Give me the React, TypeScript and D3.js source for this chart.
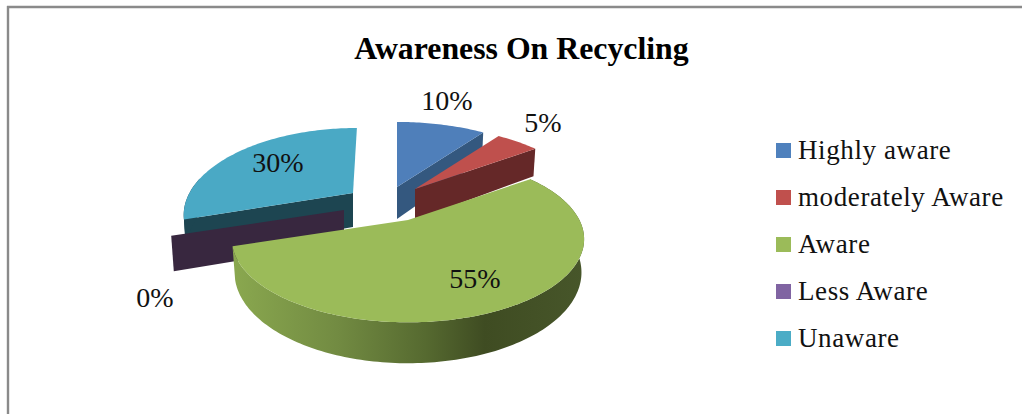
import React from "react";
import * as d3 from "d3";

// Chart data
const title = "Awareness On Recycling";
const categories = ["Highly aware", "moderately Aware", "Aware", "Less Aware", "Unaware"];
const shares = [10, 5, 55, 0, 30];

// Theme colours per category
const topColors = ["#4f7fba", "#bf504d", "#9bbb59", "#8064a2", "#4aa9c5"];
const legendColors = ["#4f81bd", "#c0504d", "#9bbb59", "#8064a2", "#4bacc6"];
const wallColors = ["#34587f", "#652828", "#9bbb59", "#38273f", "#1d4551"];

// Projection of the tilted disc
const RX = 174;
const RY = 80;
const PERSPECTIVE = 0.23;

type Layout = { ax: number; ay: number; sx: number; sy: number; shear: number; depth: number };

// Where each exploded slice sits on the page
const layouts: Layout[] = [
  { ax: 397, ay: 187, sx: 1, sy: 1, shear: 0, depth: 32 },
  { ax: 415, ay: 189, sx: 0.97, sy: 0.97, shear: 0, depth: 31 },
  { ax: 408, ay: 220, sx: 0.985, sy: 0.985, shear: 0, depth: 31.5 },
  { ax: 344, ay: 210, sx: 0.97, sy: 0.97, shear: 0, depth: 33 },
  { ax: 353, ay: 193, sx: 0.94, sy: 1, shear: -0.06, depth: 34 },
];
const labelSpots: [number, number][] = [
  [447, 110],
  [543, 132],
  [475, 288],
  [155, 307],
  [278, 172],
];

const project = (l: Layout, angle: number, r: number, z: number): [number, number] => {
  const gx = r * Math.sin(angle);
  const gy = -r * Math.cos(angle);
  const w = 1 - PERSPECTIVE * gy;
  const dy = (l.sy * RY * gy) / w;
  const x = l.ax + (l.sx * RX * gx * (1 - 0.015 * z)) / w + l.shear * dy;
  const y = l.ay + dy + (z * l.depth) / w;
  return [x, y];
};

const arcPoints = (l: Layout, a0: number, a1: number, z: number) => {
  const n = Math.max(1, Math.ceil(Math.abs(a1 - a0) / 0.02));
  return d3.range(n + 1).map((i) => project(l, a0 + ((a1 - a0) * i) / n, 1, z));
};

const closed = d3.line().curve(d3.curveLinearClosed);

const radialWall = (l: Layout, a: number) =>
  closed([project(l, a, 0, 0), project(l, a, 1, 0), project(l, a, 1, 1), project(l, a, 0, 1)]);

const topFace = (l: Layout, a0: number, a1: number) =>
  closed([project(l, 0, 0, 0), ...arcPoints(l, a0, a1, 0)]);

const outerWall = (l: Layout, a0: number, a1: number) =>
  closed([...arcPoints(l, a0, a1, 0), ...arcPoints(l, a1, a0, 1)]);

const pieSlices = d3
  .pie<number>()
  .sort(null)
  .startAngle(0)
  .endAngle(2 * Math.PI)(shares);

const legendY = d3
  .scalePoint<string>()
  .domain(categories)
  .range([150.5, 338.5]);

const bodyFont = "'Liberation Serif', serif";

export default function App() {
  const [blue, red, green, purple, teal] = pieSlices;
  return (
    <svg
      width={1022}
      height={414}
      viewBox="0 0 1022 414"
      style={{ position: "absolute", left: 0, top: 0, background: "#fff" }}
    >
      <defs>
        <linearGradient id="greenWall" gradientUnits="userSpaceOnUse" x1={232} x2={583} y1={0} y2={0}>
          <stop offset="0" stopColor="#8aa84f" />
          <stop offset="0.3" stopColor="#728b42" />
          <stop offset="0.55" stopColor="#566a30" />
          <stop offset="0.72" stopColor="#3f4c22" />
          <stop offset="1" stopColor="#47562a" />
        </linearGradient>
      </defs>

      {/* Frame: only the top and left rules are drawn */}
      <line x1={7} x2={1022} y1={7} y2={7} stroke="#8a8a8a" strokeWidth={2.4} />
      <line x1={8} x2={8} y1={6} y2={414} stroke="#8a8a8a" strokeWidth={2.4} />

      <text
        x={521.5}
        y={59}
        textAnchor="middle"
        fontFamily={bodyFont}
        fontWeight="bold"
        fontSize={31.8}
        fill="#000"
      >
        {title}
      </text>

      {/* Slices, painted back to front */}
      <path d={radialWall(layouts[0], blue.endAngle)!} fill={wallColors[0]} />
      <path d={topFace(layouts[0], blue.startAngle, blue.endAngle)!} fill={topColors[0]} />

      <path d={radialWall(layouts[4], teal.startAngle)!} fill={wallColors[4]} />
      <path d={outerWall(layouts[4], teal.startAngle, 4.9)!} fill={wallColors[4]} />
      <path d={topFace(layouts[4], teal.startAngle, teal.endAngle)!} fill={topColors[4]} />

      <path d={radialWall(layouts[3], purple.startAngle)!} fill={wallColors[3]} />

      <path d={radialWall(layouts[1], red.endAngle)!} fill={wallColors[1]} />
      <path d={topFace(layouts[1], red.startAngle, red.endAngle)!} fill={topColors[1]} />

      <path d={outerWall(layouts[2], green.startAngle, green.endAngle)!} fill="url(#greenWall)" />
      <path d={topFace(layouts[2], green.startAngle, green.endAngle)!} fill={topColors[2]} />

      {/* Value labels */}
      {shares.map((v, i) => (
        <text
          key={categories[i]}
          x={labelSpots[i][0]}
          y={labelSpots[i][1]}
          textAnchor="middle"
          fontFamily={bodyFont}
          fontSize={28}
          fill="#111"
        >
          {`${v}%`}
        </text>
      ))}

      {/* Legend */}
      {categories.map((c, i) => (
        <g key={c} transform={`translate(0,${legendY(c)})`}>
          <rect x={776} y={-7.5} width={15} height={15} fill={legendColors[i]} />
          <text x={798} y={8} fontFamily={bodyFont} fontSize={27} letterSpacing={0.6} fill="#111">
            {c}
          </text>
        </g>
      ))}
    </svg>
  );
}
